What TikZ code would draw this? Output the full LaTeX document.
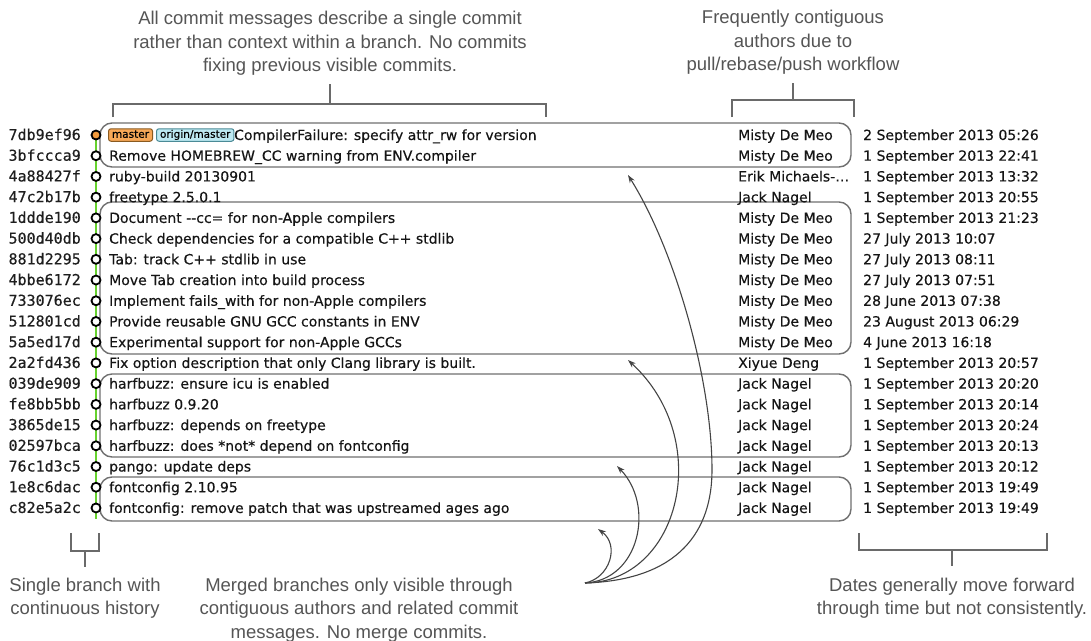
\documentclass[tikz,border=0pt]{standalone}
\usepackage{fontspec}
\setmainfont{DejaVu Sans}[FakeBold=0.25]
\newfontfamily\rowfont{DejaVu Sans}[FakeBold=0.3]
\newfontfamily\hashfont{DejaVu Sans Mono}[FakeBold=0.35]
\newfontfamily\notefont{Liberation Sans}
\usetikzlibrary{arrows.meta}
\definecolor{txtcol}{HTML}{151515}
\definecolor{hashcol}{HTML}{1E1E1E}
\definecolor{notecol}{HTML}{555555}
\definecolor{boxcol}{HTML}{707070}
\definecolor{brackcol}{HTML}{6A6A6A}
\definecolor{arrowcol}{HTML}{444444}
\definecolor{branchgreen}{HTML}{66D22E}
\definecolor{headorange}{HTML}{F29A3C}
\definecolor{tagorange}{HTML}{F7A857}
\definecolor{tagorangedark}{HTML}{8A5A20}
\definecolor{tagblue}{HTML}{BDE9F2}
\definecolor{tagbluedark}{HTML}{4A8A96}
\tikzset{
  hashtxt/.style={font=\hashfont\fontsize{15}{15}\selectfont, text=hashcol, anchor=base east, inner sep=0pt},
  msgtxt/.style={font=\rowfont\fontsize{14}{14}\selectfont, text=txtcol, anchor=base west, inner sep=0pt},
  tagbox/.style={font=\fontsize{10.5}{10.5}\selectfont, text=black, rounded corners=2.5pt, line width=1pt,
    inner xsep=3.5pt, inner ysep=0pt, text height=9pt, text depth=3.5pt, anchor=west},
  commit/.style={circle, draw=black, line width=1.8pt, fill=white, minimum size=9pt, inner sep=0pt},
  branch/.style={draw=branchgreen, line width=2.6pt},
  groupbox/.style={draw=boxcol, line width=1.4pt, rounded corners=12pt},
  bracket/.style={draw=brackcol, line width=1.3pt},
  note/.style={font=\notefont\fontsize{18.5}{18.5}\selectfont, text=notecol, anchor=base, inner sep=0pt},
  fanarrow/.style={draw=arrowcol, line width=1.1pt, -{Stealth[length=8pt,width=5.5pt]}},
}
\begin{document}
\begin{tikzpicture}[x=1pt,y=-1pt]
\useasboundingbox (0,0) rectangle (1091,640);
\fill[white] (0,0) rectangle (1091,640);

% group boxes
\draw[groupbox] (100,123) rectangle (851,167);
\draw[groupbox] (100,202) rectangle (851,354);
\draw[groupbox] (100,374) rectangle (851,457);
\draw[groupbox] (100,477) rectangle (851,521);

% branch line
\coordinate (gtop) at (96,135);
\coordinate (gbot) at (96,519);
\draw[branch] (gtop) -- (gbot);

% row 0
\node[hashtxt] (h0) at (81,140) {7db9ef96};
\node[commit, fill=headorange] (c0) at (96,135) {};
\node[tagbox, draw=tagorangedark, fill=tagorange] (tm) at (108,135) {master};
\node[tagbox, draw=tagbluedark, fill=tagblue] (to) at (156,135) {origin/master};
\node[msgtxt] (m0) at (234,140) {CompilerFailure: specify attr\_rw for version};
\node[msgtxt] (a0) at (738,140) {Misty De Meo};
\node[msgtxt] (d0) at (863,140) {2 September 2013 05:26};

\foreach \h/\m/\a/\d [count=\i] in {
3bfccca9/Remove HOMEBREW\_CC warning from ENV.compiler/Misty De Meo/1 September 2013 22:41,
4a88427f/ruby-build 20130901/Erik Michaels-…/1 September 2013 13:32,
47c2b17b/freetype 2.5.0.1/Jack Nagel/1 September 2013 20:55,
1ddde190/Document -{}-cc= for non-Apple compilers/Misty De Meo/1 September 2013 21:23,
500d40db/Check dependencies for a compatible C++ stdlib/Misty De Meo/27 July 2013 10:07,
881d2295/Tab: track C++ stdlib in use/Misty De Meo/27 July 2013 08:11,
4bbe6172/Move Tab creation into build process/Misty De Meo/27 July 2013 07:51,
733076ec/Implement fails\_with for non-Apple compilers/Misty De Meo/28 June 2013 07:38,
512801cd/Provide reusable GNU GCC constants in ENV/Misty De Meo/23 August 2013 06:29,
5a5ed17d/Experimental support for non-Apple GCCs/Misty De Meo/4 June 2013 16:18,
2a2fd436/Fix option description that only Clang library is built./Xiyue Deng/1 September 2013 20:57,
039de909/harfbuzz: ensure icu is enabled/Jack Nagel/1 September 2013 20:20,
fe8bb5bb/harfbuzz 0.9.20/Jack Nagel/1 September 2013 20:14,
3865de15/harfbuzz: depends on freetype/Jack Nagel/1 September 2013 20:24,
02597bca/harfbuzz: does *not* depend on fontconfig/Jack Nagel/1 September 2013 20:13,
76c1d3c5/pango: update deps/Jack Nagel/1 September 2013 20:12,
1e8c6dac/fontconfig 2.10.95/Jack Nagel/1 September 2013 19:49,
c82e5a2c/fontconfig: remove patch that was upstreamed ages ago/Jack Nagel/1 September 2013 19:49}{
  \pgfmathsetmacro\yy{135+20.72*\i}
  \pgfmathsetmacro\yb{\yy+5}
  \node[hashtxt] (h\i) at (81,\yb) {\h};
  \node[commit] (c\i) at (96,\yy) {};
  \node[msgtxt] (m\i) at (109,\yb) {\m};
  \node[msgtxt] (a\i) at (738,\yb) {\a};
  \node[msgtxt] (d\i) at (863,\yb) {\d};
}

% top annotations
\node[note] (t1a) at (330,24.5) {All commit messages describe a single commit};
\node[note] (t1b) at (330,48) {rather than context within a branch. No commits};
\node[note] (t1c) at (330,71.5) {fixing previous visible commits.};
\draw[bracket] (113,117) -- (113,104) -- (546,104) -- (546,117);
\draw[bracket] (330,104) -- (330,84);

\node[note] (t2a) at (793,23.5) {Frequently contiguous};
\node[note] (t2b) at (793,47) {authors due to};
\node[note] (t2c) at (793,70.5) {pull/rebase/push workflow};
\draw[bracket] (732,117) -- (732,100) -- (854,100) -- (854,117);
\draw[bracket] (793,100) -- (793,83);

% bottom annotations
\draw[bracket] (71,533) -- (71,551) -- (99,551) -- (99,533);
\draw[bracket] (85,551) -- (85,567);
\node[note] (b1a) at (85,591.5) {Single branch with};
\node[note] (b1b) at (85,614.8) {continuous history};

\node[note] (b2a) at (359,591.5) {Merged branches only visible through};
\node[note] (b2b) at (359,614.8) {contiguous authors and related commit};
\node[note] (b2c) at (359,638) {messages. No merge commits.};

\draw[bracket] (859,533) -- (859,550) -- (1047,550) -- (1047,533);
\draw[bracket] (952,550) -- (952,566);
\node[note] (b3a) at (952,591.5) {Dates generally move forward};
\node[note] (b3b) at (952,614.8) {through time but not consistently.};

% fan of arrows
\coordinate (fs) at (585,583);
\coordinate (f1) at (628,175);
\coordinate (f2) at (628,360);
\coordinate (f3) at (617,466);
\coordinate (f4) at (598,529);
\draw[fanarrow] (fs) .. controls (680,580) and (712,530) .. (712,470) .. controls (712,380) and (675,250) .. (f1);
\draw[fanarrow] (fs) .. controls (680,582) and (715,440) .. (f2);
\draw[fanarrow] (fs) .. controls (640,580) and (655,505) .. (f3);
\draw[fanarrow] (fs) .. controls (610,578) and (620,545) .. (f4);
\end{tikzpicture}
\end{document}
